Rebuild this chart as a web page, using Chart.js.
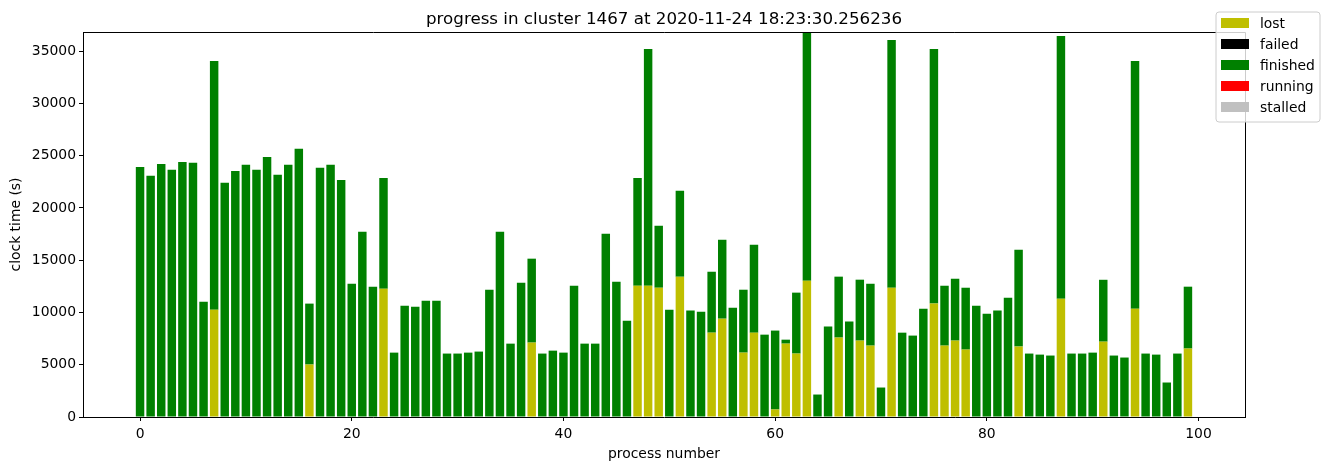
<!DOCTYPE html>
<html><head><meta charset="utf-8">
<script src="https://cdn.jsdelivr.net/npm/chart.js@4/dist/chart.umd.min.js"></script>
<style>html,body{margin:0;padding:0;background:#fff;} canvas{display:block;}</style>
</head><body>
<canvas id="c" width="1330" height="470"></canvas>
<script>
const processNumbers = [
  0,1,2,3,4,5,6,7,8,9,10,11,12,13,14,15,16,17,18,19,
  20,21,22,23,24,25,26,27,28,29,30,31,32,33,34,35,36,37,38,39,
  40,41,42,43,44,45,46,47,48,49,50,51,52,53,54,55,56,57,58,59,
  60,61,62,63,64,65,66,67,68,69,70,71,72,73,74,75,76,77,78,79,
  80,81,82,83,84,85,86,87,88,89,90,91,92,93,94,95,96,97,98,99];
const lost = [
  0,0,0,0,0,0,0,10270,0,0, 0,0,0,0,0,0,5020,0,0,0,
  0,0,0,12280,0,0,0,0,0,0, 0,0,0,0,0,0,0,7120,0,0,
  0,0,0,0,0,0,0,12560,12560,12370, 0,13420,0,0,8070,9410,0,6160,8070,0,
  720,7020,6070,13040,0,0,7600,0,7310,6830, 0,12370,0,0,0,10850,6830,7310,6450,0,
  0,0,0,6740,0,0,0,11320,0,0, 0,7210,0,0,10370,0,0,0,0,6550];
const failed = [];
const finished = [
  23930,23080,24220,23650,24410,24320,11040,23790,22410,23550,
  24130,23650,24890,23170,24130,25660,5830,23840,24130,22690,
  12760,17730,12470,10600,6160,10650,10560,11130,11130,6070,
  6070,6160,6260,12180,17730,7020,12850,8030,6070,6350,
  6160,12570,7020,7020,17530,12950,9220,10320,22650,5930,
  10270,8220,10180,10080,5830,7550,10460,6020,8410,7880,
  7550,380,5830,23800,2150,8650,5830,9130,5830,5920,
  2820,23700,8070,7790,10370,24360,5730,5920,5920,10650,
  9890,10180,11420,9270,6070,5970,5880,25130,6070,6070,
  6160,5920,5880,5690,23700,6070,5970,3300,6070,5920];
const running = [];
const stalled = [];
const xTicks = [0,20,40,60,80,100];
const yTicks = [0,5000,10000,15000,20000,25000,30000,35000];
const titleText = 'progress in cluster 1467 at 2020-11-24 18:23:30.256236';

const FONT = "'DejaVu Sans', sans-serif";
function pts(arr){ return arr.map((v,i)=>({x:processNumbers[i], y:v})); }
function ds(label, arr, color){
  return {label, data: pts(arr), backgroundColor: color, borderWidth: 0,
          barPercentage: 0.8, categoryPercentage: 1.0, stack: 's'};
}

const framePlugin = {
  id: 'frame',
  afterDraw(chart){
    const ctx = chart.ctx, a = chart.chartArea;
    ctx.save();
    ctx.strokeStyle = '#000'; ctx.lineWidth = 1;
    ctx.beginPath();
    ctx.moveTo(a.left, a.top+0.5); ctx.lineTo(a.right+0.5, a.top+0.5);
    ctx.lineTo(a.right+0.5, a.bottom);
    ctx.stroke();
    ctx.fillStyle = '#000';
    ctx.font = '16.7px ' + FONT;
    ctx.textAlign = 'center'; ctx.textBaseline = 'alphabetic';
    ctx.fillText(titleText, (a.left + a.right)/2, 24);
    const bx = 1216, by = 12, bw = 104, bh = 110, r = 3;
    ctx.beginPath();
    ctx.moveTo(bx+r, by); ctx.lineTo(bx+bw-r, by); ctx.arcTo(bx+bw, by, bx+bw, by+r, r);
    ctx.lineTo(bx+bw, by+bh-r); ctx.arcTo(bx+bw, by+bh, bx+bw-r, by+bh, r);
    ctx.lineTo(bx+r, by+bh); ctx.arcTo(bx, by+bh, bx, by+bh-r, r);
    ctx.lineTo(bx, by+r); ctx.arcTo(bx, by, bx+r, by, r);
    ctx.closePath();
    ctx.fillStyle = 'rgba(255,255,255,0.8)'; ctx.fill();
    ctx.strokeStyle = '#cccccc'; ctx.lineWidth = 1; ctx.stroke();
    ctx.font = '13.9px ' + FONT;
    ctx.textAlign = 'left'; ctx.textBaseline = 'middle';
    chart.data.datasets.forEach((d, i) => {
      const cy = 23 + i*21;
      ctx.fillStyle = d.backgroundColor;
      ctx.fillRect(1221, cy-5, 28, 10);
      ctx.fillStyle = '#000';
      ctx.fillText(d.label, 1260, cy + 1);
    });
    ctx.restore();
  }
};

new Chart(document.getElementById('c'), {
  type: 'bar',
  data: {
    datasets: [
      ds('lost', lost, '#bfbf00'),
      ds('failed', failed, '#000000'),
      ds('finished', finished, '#008000'),
      ds('running', running, '#ff0000'),
      ds('stalled', stalled, '#c0c0c0')
    ]
  },
  options: {
    responsive: false,
    animation: false,
    layout: { padding: { left: 0, top: 32, right: 85, bottom: 0 } },
    plugins: { legend: { display: false }, title: { display: false }, tooltip: { enabled: false } },
    scales: {
      x: {
        type: 'linear', stacked: true, min: -5.39, max: 104.39, offset: false,
        afterBuildTicks(s){ s.ticks = xTicks.map(v => ({value: v})); },
        afterFit(s){ s.height = 53; },
        ticks: { color: '#000', font: { family: FONT, size: 13.9 }, padding: 5, maxRotation: 0,
                 callback: v => String(v) },
        grid: { display: true, offset: false, drawOnChartArea: false, drawTicks: true, tickLength: 4, color: '#000', lineWidth: 1 },
        border: { display: true, color: '#000', width: 1 },
        title: { display: true, text: 'process number', color: '#000',
                 font: { family: FONT, size: 13.9 }, padding: { top: 0, bottom: 7 } }
      },
      y: {
        stacked: true, min: 0, max: 36840,
        afterBuildTicks(s){ s.ticks = yTicks.map(v => ({value: v})); },
        afterFit(s){ s.width = 83; },
        ticks: { color: '#000', font: { family: FONT, size: 13.9 }, padding: 3,
                 callback: v => String(v) },
        grid: { display: true, drawOnChartArea: false, drawTicks: true, tickLength: 4, color: '#000', lineWidth: 1 },
        border: { display: true, color: '#000', width: 1 },
        title: { display: true, text: 'clock time (s)', color: '#000',
                 font: { family: FONT, size: 13.9 }, padding: { top: 8, bottom: 0 } }
      }
    }
  },
  plugins: [framePlugin]
});
</script>
</body></html>
